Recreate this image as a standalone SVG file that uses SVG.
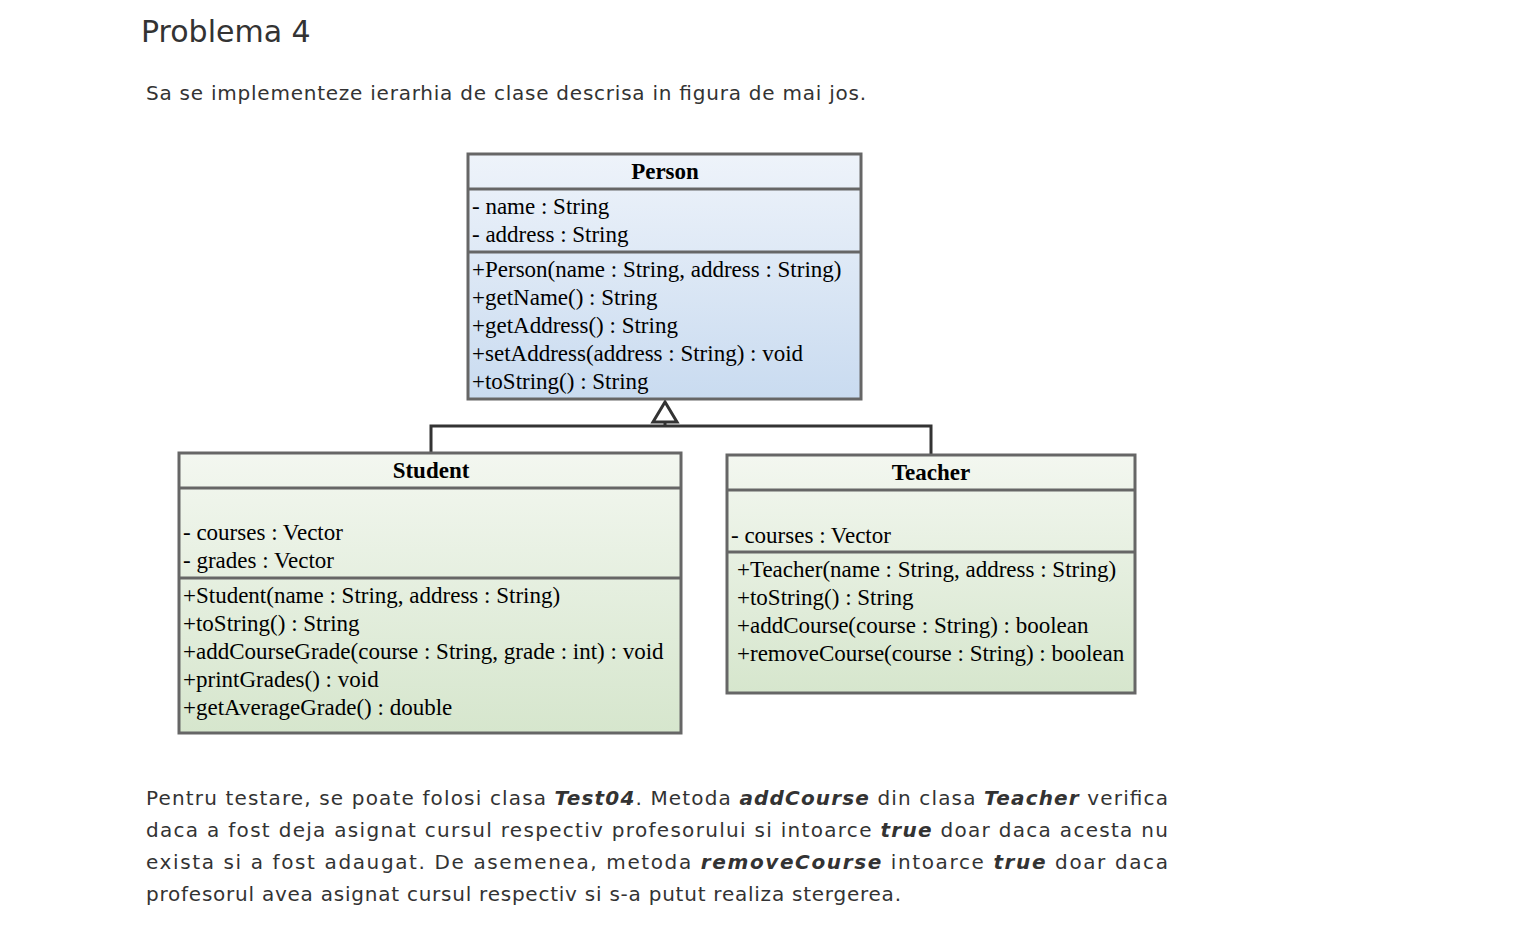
<svg xmlns="http://www.w3.org/2000/svg" width="1516" height="931" viewBox="0 0 1516 931">
<defs>
<linearGradient id="gb" x1="0" y1="0" x2="0" y2="1"><stop offset="0" stop-color="#eef3fa"/><stop offset="1" stop-color="#c9dbf0"/></linearGradient>
<linearGradient id="gg" x1="0" y1="0" x2="0" y2="1"><stop offset="0" stop-color="#f3f7f0"/><stop offset="1" stop-color="#d6e6cd"/></linearGradient>
<style>
.pg{font-family:"DejaVu Sans",Verdana,sans-serif;fill:#333;}
.uml{font-family:"Liberation Serif","Times New Roman",serif;font-size:23px;fill:#000;}
.hd{font-weight:bold;text-anchor:middle;}
.box{stroke:#666;stroke-width:3;}
.sep{stroke:#666;stroke-width:3;fill:none;}
.ln{stroke:#333;stroke-width:3;fill:none;}
.b{font-weight:bold;font-style:italic;}
</style>
</defs>
<rect width="1516" height="931" fill="#fff"/>
<text class="pg" x="141" y="42" font-size="30">Problema 4</text>
<text class="pg" x="146" y="100" font-size="20" textLength="720">Sa se implementeze ierarhia de clase descrisa in figura de mai jos.</text>

<g id="connectors">
<polyline class="ln" points="431,453 431,426 931,426 931,455"/>
<line class="ln" x1="665" y1="426" x2="665" y2="422"/>
<polygon points="665,402 653,422 677,422" fill="#fff" stroke="#333" stroke-width="3"/>
</g>

<g id="person">
<rect class="box" x="468" y="154" width="393" height="245" fill="url(#gb)"/>
<line class="sep" x1="468" y1="189" x2="861" y2="189"/>
<line class="sep" x1="468" y1="252" x2="861" y2="252"/>
<text class="uml hd" x="665" y="179">Person</text>
<text class="uml" x="472" y="214">- name : String</text>
<text class="uml" x="472" y="242">- address : String</text>
<text class="uml" x="472" y="277">+Person(name : String, address : String)</text>
<text class="uml" x="472" y="305">+getName() : String</text>
<text class="uml" x="472" y="333">+getAddress() : String</text>
<text class="uml" x="472" y="361">+setAddress(address : String) : void</text>
<text class="uml" x="472" y="389">+toString() : String</text>
</g>

<g id="student">
<rect class="box" x="179" y="453" width="502" height="280" fill="url(#gg)"/>
<line class="sep" x1="179" y1="488" x2="681" y2="488"/>
<line class="sep" x1="179" y1="578" x2="681" y2="578"/>
<text class="uml hd" x="431" y="478">Student</text>
<text class="uml" x="183" y="540">- courses : Vector</text>
<text class="uml" x="183" y="568">- grades : Vector</text>
<text class="uml" x="183" y="603">+Student(name : String, address : String)</text>
<text class="uml" x="183" y="631">+toString() : String</text>
<text class="uml" x="183" y="659">+addCourseGrade(course : String, grade : int) : void</text>
<text class="uml" x="183" y="687">+printGrades() : void</text>
<text class="uml" x="183" y="715">+getAverageGrade() : double</text>
</g>

<g id="teacher">
<rect class="box" x="727" y="455" width="408" height="238" fill="url(#gg)"/>
<line class="sep" x1="727" y1="490" x2="1135" y2="490"/>
<line class="sep" x1="727" y1="552" x2="1135" y2="552"/>
<text class="uml hd" x="931" y="480">Teacher</text>
<text class="uml" x="731" y="543">- courses : Vector</text>
<text class="uml" x="737" y="577">+Teacher(name : String, address : String)</text>
<text class="uml" x="737" y="605">+toString() : String</text>
<text class="uml" x="737" y="633">+addCourse(course : String) : boolean</text>
<text class="uml" x="737" y="661">+removeCourse(course : String) : boolean</text>
</g>

<text class="pg" x="146" y="805" font-size="20" textLength="1022">Pentru testare, se poate folosi clasa <tspan class="b">Test04</tspan>. Metoda <tspan class="b">addCourse</tspan> din clasa <tspan class="b">Teacher</tspan> verifica</text>
<text class="pg" x="146" y="837" font-size="20" textLength="1022">daca a fost deja asignat cursul respectiv profesorului si intoarce <tspan class="b">true</tspan> doar daca acesta nu</text>
<text class="pg" x="146" y="869" font-size="20" textLength="1022">exista si a fost adaugat. De asemenea, metoda <tspan class="b">removeCourse</tspan> intoarce <tspan class="b">true</tspan> doar daca</text>
<text class="pg" x="146" y="901" font-size="20" textLength="755">profesorul avea asignat cursul respectiv si s-a putut realiza stergerea.</text>
</svg>
